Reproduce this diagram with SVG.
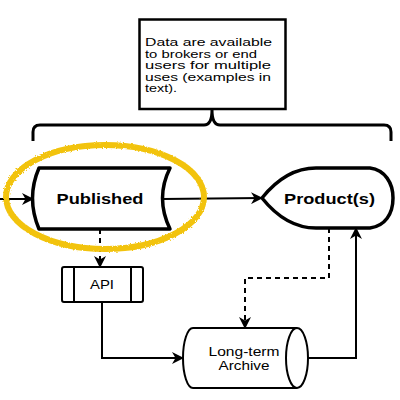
<svg xmlns="http://www.w3.org/2000/svg" width="400" height="400" viewBox="0 0 400 400">
<style>
.t{font-family:"Liberation Sans",Arial,sans-serif;fill:#000}
.b{font-weight:bold}
.c{fill:none;stroke:#000;stroke-width:2}
.d{stroke-dasharray:5,4}
</style>
<defs>
<marker id="ar" viewBox="0 0 12 12" refX="11" refY="6" markerWidth="12" markerHeight="12" markerUnits="userSpaceOnUse" orient="auto">
<path d="M0,0 L12,6 L0,12 L3.5,6 Z" fill="#000"/>
</marker>
<filter id="rough" x="-10%" y="-10%" width="120%" height="120%">
<feTurbulence type="fractalNoise" baseFrequency="0.6" numOctaves="2" result="n"/>
<feDisplacementMap in="SourceGraphic" in2="n" scale="3"/>
</filter>
</defs>
<rect width="400" height="400" fill="#fff"/>

<g id="note">
<rect x="139.5" y="19.5" width="146" height="89.5" fill="#fff" stroke="#000" stroke-width="2.5"/>
<text class="t" font-size="10"><tspan x="145" y="46" textLength="127" lengthAdjust="spacingAndGlyphs">Data are available</tspan><tspan x="145" y="57.5" textLength="112" lengthAdjust="spacingAndGlyphs">to brokers or end</tspan><tspan x="145" y="69" textLength="126" lengthAdjust="spacingAndGlyphs">users for multiple</tspan><tspan x="145" y="80.5" textLength="126" lengthAdjust="spacingAndGlyphs">uses (examples in</tspan><tspan x="145" y="92" textLength="32" lengthAdjust="spacingAndGlyphs">text).</tspan></text>
</g>

<g id="brace">
<path d="M33,141 L33,132 Q33,125 40,125 L204,125 Q212,125 212,110 Q212,125 220,125 L384,125 Q391,125 391,132 L391,141" fill="none" stroke="#000" stroke-width="3"/>
</g>

<g id="connectors">
<path class="c" d="M0,199 L33,199" marker-end="url(#ar)"/>
<path class="c" d="M162,199 L262,198" marker-end="url(#ar)"/>
<path class="c d" d="M100,229 L100,267" marker-end="url(#ar)"/>
<path class="c" d="M102,302 L102,358 L183,358" marker-end="url(#ar)"/>
<path class="c" d="M308,358 L356,358 L356,228" marker-end="url(#ar)"/>
<path class="c d" d="M329,228 L329,278 L245,278 L245,328" marker-end="url(#ar)"/>
</g>

<g id="published">
<path d="M39,168 L170,168 Q155,198 170,229 L39,229 Q26,198 39,168 Z" fill="#fff" stroke="#000" stroke-width="3.5" stroke-linejoin="round"/>
<text class="t b" x="100" y="204" font-size="15" text-anchor="middle" textLength="87" lengthAdjust="spacingAndGlyphs">Published</text>
</g>

<g id="highlight">
<ellipse cx="105" cy="197" rx="99" ry="52" fill="none" stroke="#F2C30A" stroke-width="6" filter="url(#rough)"/>
</g>

<g id="products">
<path d="M262,198 C278,178 295,168 316,168 L370,168 C385,170 393,183 393,198 C393,214 385,226 370,228 L316,228 C295,228 278,218 262,198 Z" fill="#fff" stroke="#000" stroke-width="3.5" stroke-linejoin="round"/>
<text class="t b" x="329.5" y="204" font-size="15" text-anchor="middle" textLength="91" lengthAdjust="spacingAndGlyphs">Product(s)</text>
</g>

<g id="api">
<rect x="62" y="267" width="81" height="35" rx="2" fill="#fff" stroke="#000" stroke-width="2"/>
<path d="M74,267 L74,302 M131,267 L131,302" stroke="#000" stroke-width="2"/>
<text class="t" x="102" y="289" font-size="12" text-anchor="middle" textLength="24" lengthAdjust="spacingAndGlyphs">API</text>
</g>

<g id="archive">
<path d="M193,328 L297,328 A11,30 0 0 1 297,388 L193,388 A10,30 0 0 1 193,328 Z" fill="#fff" stroke="#000" stroke-width="2"/>
<path d="M297,328 A11,30 0 0 0 297,388" fill="none" stroke="#000" stroke-width="2"/>
<text class="t" font-size="12" text-anchor="middle"><tspan x="244" y="356" textLength="71" lengthAdjust="spacingAndGlyphs">Long-term</tspan><tspan x="244" y="370" textLength="51" lengthAdjust="spacingAndGlyphs">Archive</tspan></text>
</g>
</svg>
